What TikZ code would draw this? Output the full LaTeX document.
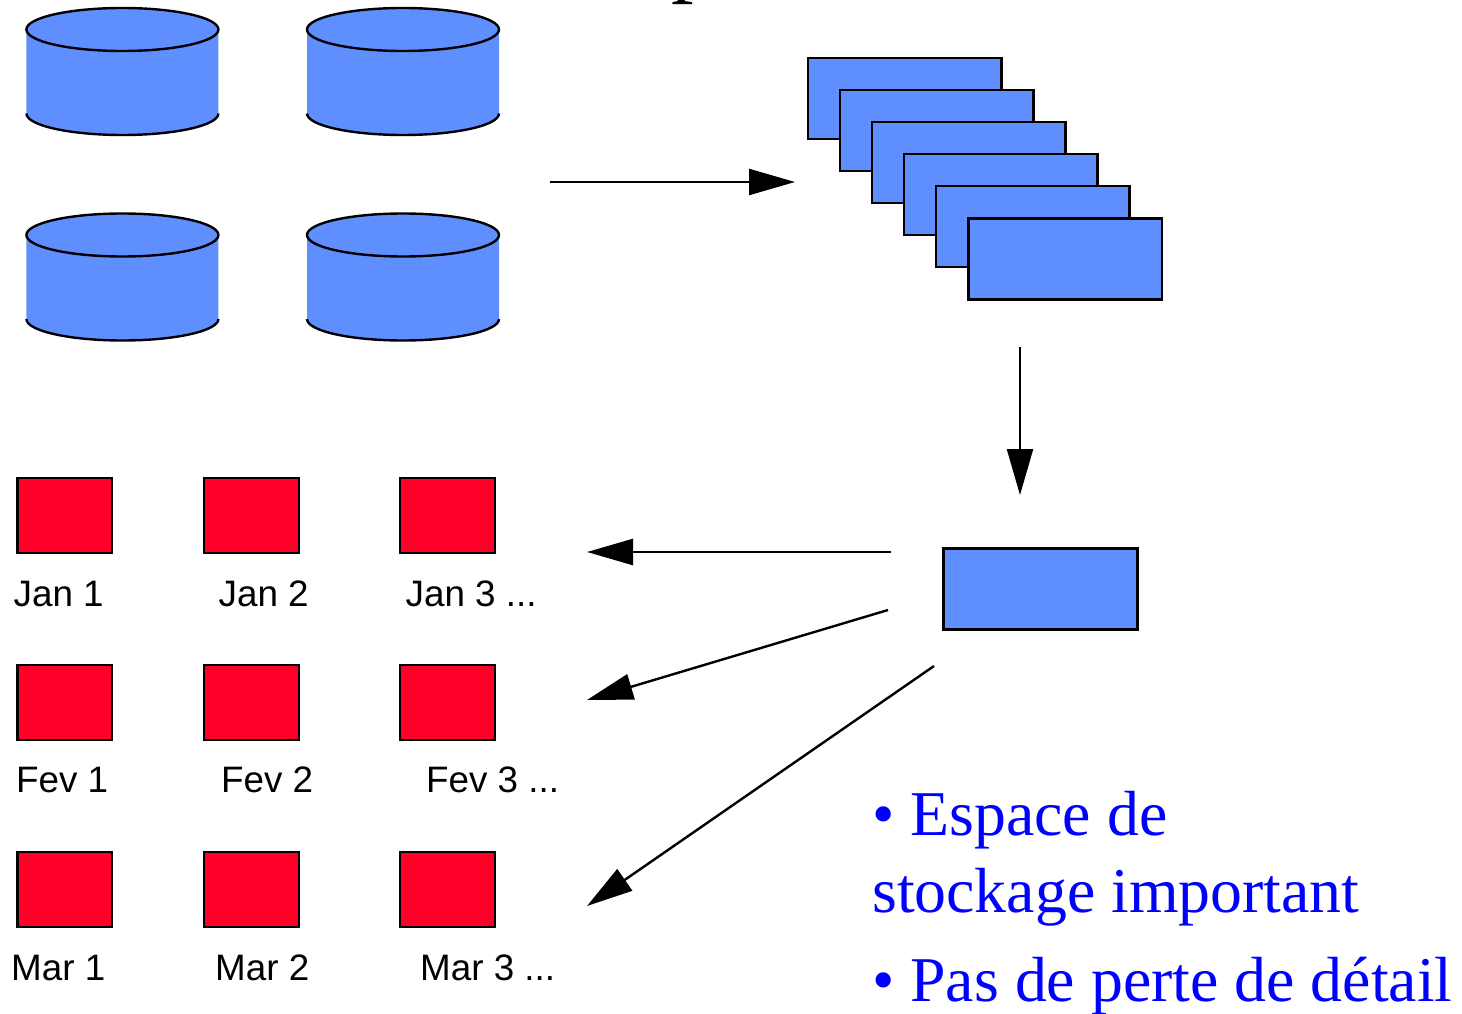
\documentclass[tikz,border=0pt]{standalone}
\usepackage{fontspec}
\setmainfont{Liberation Serif}
\newfontfamily\labelfont{Liberation Sans}
\usetikzlibrary{arrows.meta}
\definecolor{cylblue}{HTML}{5F8FFF}
\definecolor{boxred}{HTML}{FF0029}
\definecolor{textblue}{HTML}{0000FF}
\tikzset{
  bluebox/.style={draw=black,fill=cylblue,line width=2.2pt,anchor=north west,minimum width=193.5pt,minimum height=81pt,inner sep=0pt,outer sep=0pt},
  redbox/.style={draw=black,fill=boxred,line width=2.2pt,anchor=north west,minimum width=94.5pt,minimum height=75pt,inner sep=0pt,outer sep=0pt},
  lab/.style={anchor=base west,inner sep=0pt,font=\labelfont\fontsize{36.8pt}{40pt}\selectfont,text=black},
  bullet/.style={anchor=base west,inner sep=0pt,font=\fontsize{63.8pt}{66pt}\selectfont,text=textblue},
  arrow/.style={draw=black,line width=2.4pt,-{Triangle[length=46pt,width=26pt]},shorten >=0pt},
  pics/disk/.style={code={
    \fill[cylblue] (0,0) -- (0,84) arc[start angle=180,end angle=0,x radius=96,y radius=21.5] -- (192,0) arc[start angle=0,end angle=-180,x radius=96,y radius=21.5] -- cycle;
    \draw[line width=2.4pt] (96,0) ellipse[x radius=96,y radius=21.5];
    \draw[line width=2.4pt] (0,84) arc[start angle=180,end angle=0,x radius=96,y radius=21.5];
  }}
}
\begin{document}
\begin{tikzpicture}[x=1pt,y=-1pt]
\useasboundingbox (0,0) rectangle (1462,1014);
\clip (0,0) rectangle (1462,1014);
\node[anchor=base west,inner sep=0pt,font=\fontsize{90pt}{90pt}\selectfont] (title) at (671,-14) {p};
\pic at (26.4,29.5) {disk};
\pic at (307,29.5) {disk};
\pic at (26.4,235) {disk};
\pic at (307,235) {disk};
\node[bluebox] (s1) at (808,58) {};
\node[bluebox] (s2) at (840,90) {};
\node[bluebox] (s3) at (872,122) {};
\node[bluebox] (s4) at (904,154) {};
\node[bluebox] (s5) at (936,186) {};
\node[bluebox] (s6) at (968.5,218.5) {};
\node[bluebox,minimum width=194pt] (single) at (943.5,548.5) {};
\foreach \nm/\x in {a/17.5,b/204.2,c/400.2}{
  \foreach \rw/\y in {1/478,2/665,3/852}{
    \node[redbox] (r\nm\rw) at (\x,\y) {};
  }
}
\node[lab] (j1) at (13.5,606.5) {Jan 1};
\node[lab] (j2) at (218.5,606.5) {Jan 2};
\node[lab] (j3) at (405.5,606.5) {Jan 3 ...};
\node[lab] (f1) at (16,792.5) {Fev 1};
\node[lab] (f2) at (221,792.5) {Fev 2};
\node[lab] (f3) at (426,792.5) {Fev 3 ...};
\node[lab] (m1) at (11,980.5) {Mar 1};
\node[lab] (m2) at (215,980.5) {Mar 2};
\node[lab] (m3) at (420,980.5) {Mar 3 ...};
\coordinate (a1s) at (550,182); \coordinate (a1e) at (795,182);
\coordinate (a2s) at (1020,347); \coordinate (a2e) at (1020,495);
\coordinate (a3s) at (891,552); \coordinate (a3e) at (587,552);
\coordinate (a4s) at (888,610); \coordinate (a4e) at (587,700);
\coordinate (a5s) at (934,666); \coordinate (a5e) at (587,906);
\draw[arrow] (a1s) -- (a1e);
\draw[arrow] (a2s) -- (a2e);
\draw[arrow] (a3s) -- (a3e);
\draw[arrow] (a4s) -- (a4e);
\draw[arrow] (a5s) -- (a5e);
\node[bullet] (t1) at (872,835) {• Espace de};
\node[bullet] (t2) at (872,912) {stockage important};
\node[bullet] (t3) at (872,1001.5) {• Pas de perte de détail};
\end{tikzpicture}
\end{document}
